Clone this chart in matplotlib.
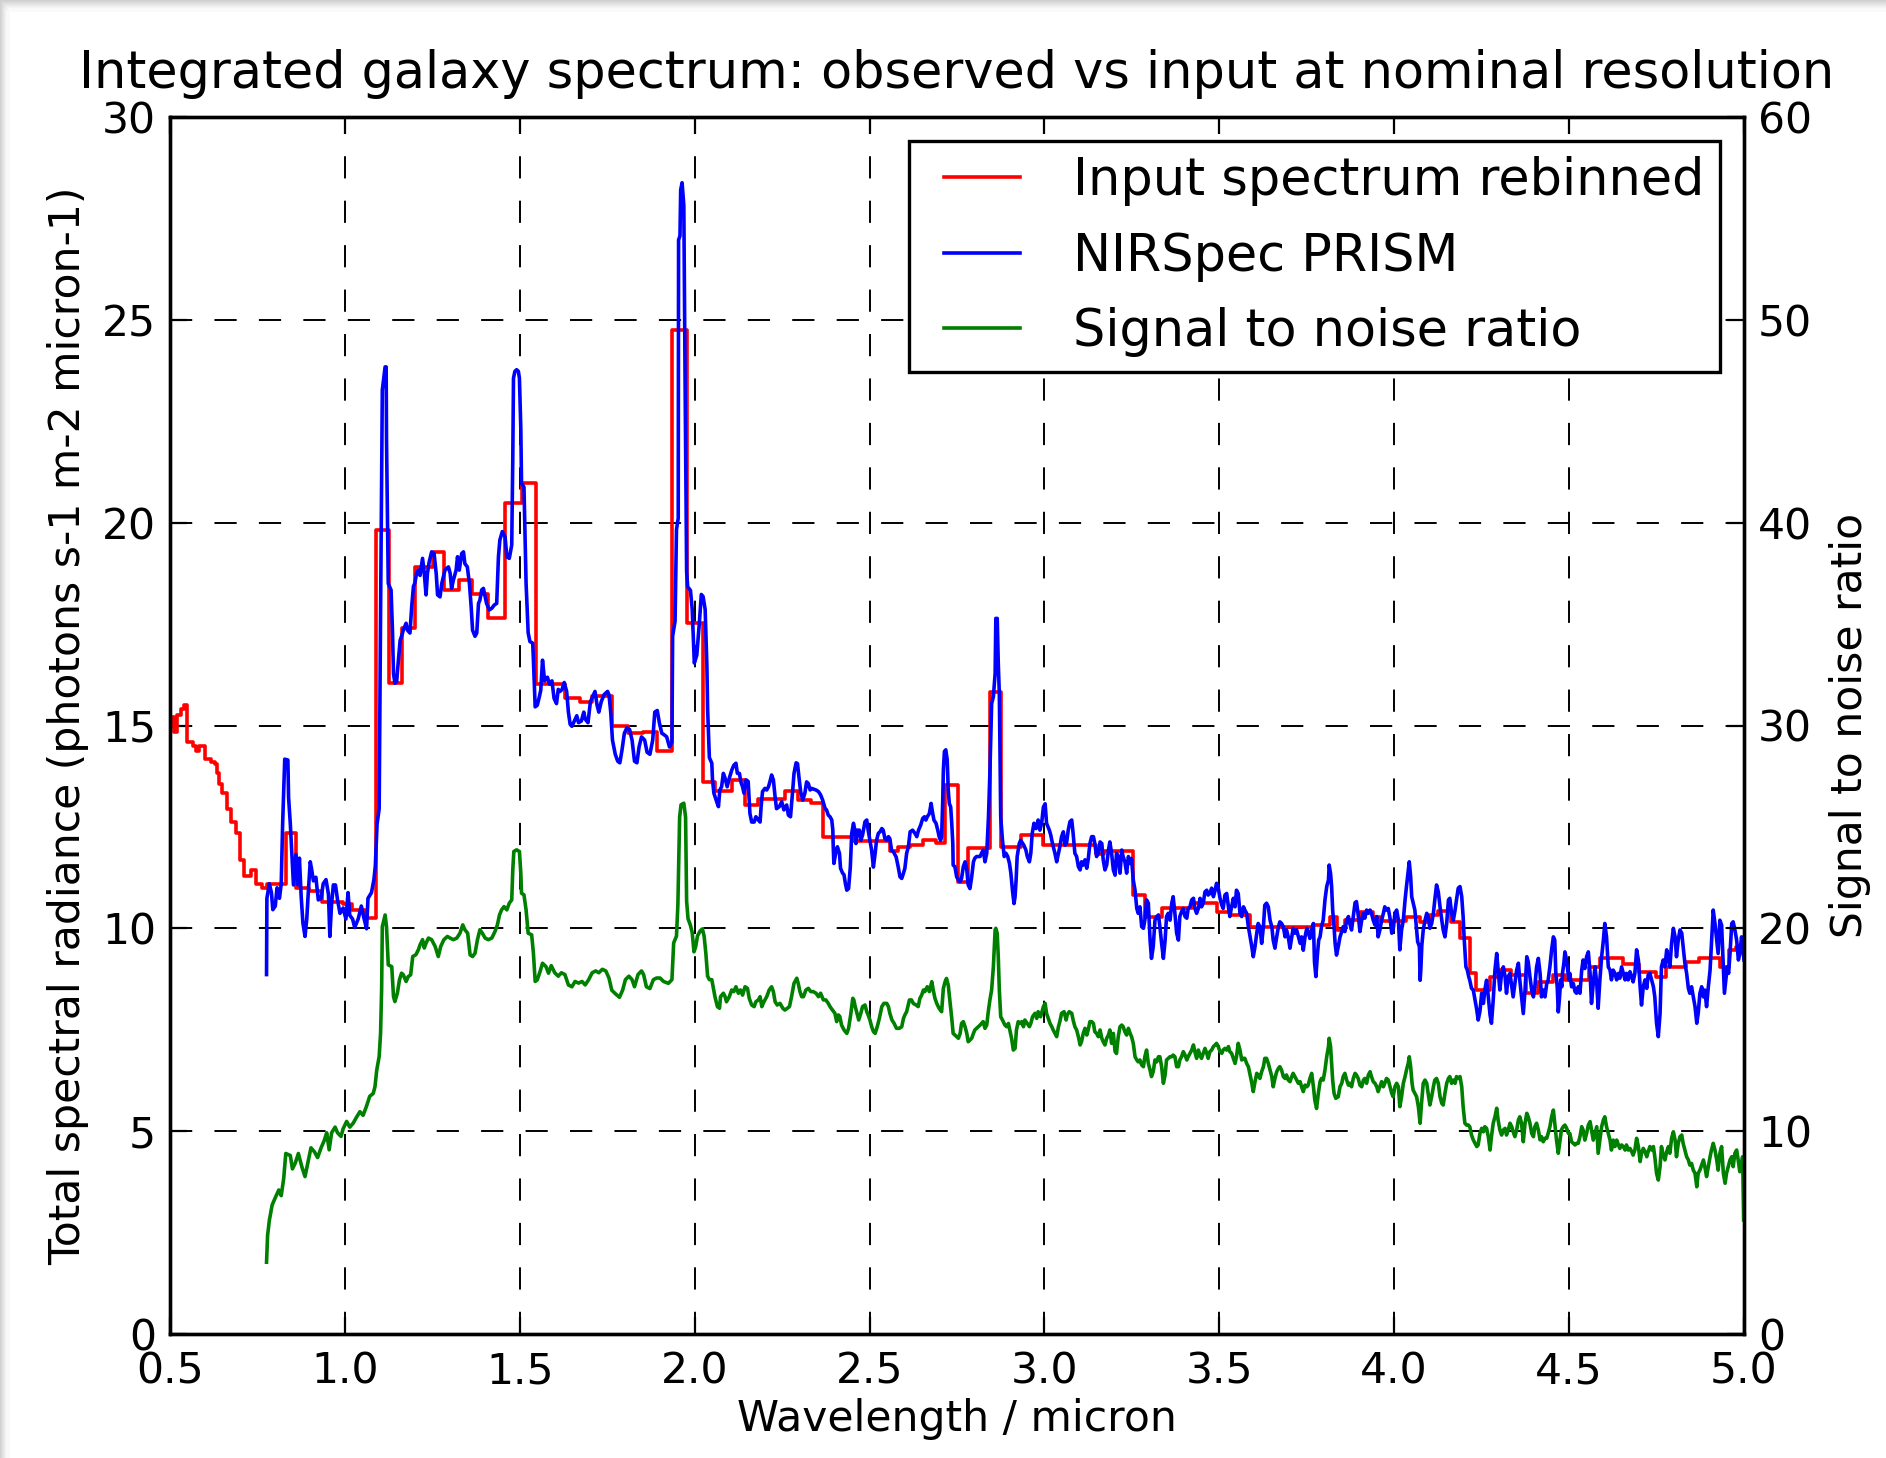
import matplotlib
matplotlib.use("Agg")
import matplotlib.pyplot as plt
from matplotlib.patches import Rectangle
from matplotlib.legend_handler import HandlerLine2D

plt.rcParams['font.family'] = ['DejaVu Sans']
plt.rcParams['lines.scale_dashes'] = False

# input spectrum rebinned: bin edges (micron) and values
red_edges = [0.500, 0.506, 0.512, 0.519, 0.531, 0.541, 0.550, 0.566, 0.575, 0.583,
             0.600, 0.616, 0.629, 0.635, 0.640, 0.650, 0.664, 0.673, 0.688, 0.699,
             0.711, 0.733, 0.746, 0.763, 0.777, 0.832, 0.861, 0.896, 0.934, 0.995,
             1.019, 1.057, 1.089, 1.126, 1.164, 1.200, 1.253, 1.283, 1.327, 1.362,
             1.410, 1.458, 1.505, 1.545, 1.629, 1.673, 1.707, 1.765, 1.809, 1.852,
             1.891, 1.936, 1.979, 2.025, 2.058, 2.106, 2.144, 2.182, 2.258, 2.296,
             2.334, 2.368, 2.449, 2.558, 2.582, 2.615, 2.653, 2.691, 2.715, 2.753,
             2.782, 2.844, 2.877, 2.934, 2.997, 3.146, 3.170, 3.254, 3.287, 3.335,
             3.421, 3.492, 3.530, 3.587, 3.768, 3.816, 3.835, 3.859, 3.902, 3.940,
             3.959, 4.035, 4.073, 4.102, 4.125, 4.163, 4.187, 4.216, 4.235, 4.273,
             4.302, 4.335, 4.378, 4.412, 4.455, 4.488, 4.558, 4.587, 4.653, 4.701,
             4.748, 4.777, 4.834, 4.872, 4.930, 4.958, 4.977, 5.000]
red_vals = [15.0, 15.2, 14.83, 15.25, 15.4, 15.5, 14.6, 14.5, 14.36, 14.5,
            14.17, 14.1, 14.05, 13.84, 13.56, 13.33, 12.95, 12.62, 12.34, 11.68,
            11.3, 11.43, 11.1, 11.0, 11.1, 12.34, 11.0, 10.93, 10.65, 10.6,
            10.46, 10.25, 19.83, 16.04, 17.4, 18.9, 19.27, 18.35, 18.58, 18.25,
            17.64, 20.48, 20.98, 16.03, 15.67, 15.57, 15.72, 14.98, 14.81, 14.85,
            14.38, 24.74, 17.53, 13.61, 13.38, 13.65, 13.04, 13.2, 13.38, 13.16,
            13.08, 12.26, 12.16, 11.91, 12.01, 12.05, 12.18, 12.1, 13.53, 11.15,
            11.97, 15.83, 12.01, 12.3, 12.05, 11.83, 11.9, 10.82, 10.29, 10.51,
            10.62, 10.41, 10.33, 10.04, 10.08, 10.27, 9.96, 10.2, 10.41, 10.27,
            10.19, 10.27, 10.16, 10.32, 10.42, 10.16, 9.75, 8.89, 8.48, 8.8,
            8.97, 8.85, 8.4, 8.68, 8.85, 8.72, 9.05, 9.26, 9.13, 8.93,
            8.81, 9.05, 9.17, 9.26, 9.05, 9.47, 9.55]

# NIRSpec PRISM observed spectrum
prism_wl = [
    0.776, 0.777, 0.784, 0.790, 0.794, 0.801, 0.806, 0.813, 0.818, 0.822, 0.828, 0.837, 0.839, 0.844,
    0.848, 0.853, 0.860, 0.866, 0.870, 0.875, 0.880, 0.886, 0.891, 0.896, 0.901, 0.905, 0.910, 0.917,
    0.924, 0.932, 0.938, 0.946, 0.953, 0.957, 0.962, 0.967, 0.973, 0.979, 0.986, 0.995, 1.003, 1.009,
    1.014, 1.022, 1.028, 1.038, 1.047, 1.054, 1.062, 1.066, 1.076, 1.083, 1.087, 1.092, 1.098, 1.102,
    1.107, 1.115, 1.118, 1.119, 1.124, 1.132, 1.136, 1.139, 1.143, 1.148, 1.153, 1.158, 1.162, 1.167,
    1.175, 1.179, 1.186, 1.191, 1.196, 1.200, 1.205, 1.210, 1.215, 1.222, 1.227, 1.232, 1.236, 1.241,
    1.248, 1.255, 1.261, 1.265, 1.272, 1.277, 1.286, 1.296, 1.301, 1.305, 1.310, 1.318, 1.322, 1.327,
    1.334, 1.339, 1.343, 1.350, 1.356, 1.361, 1.365, 1.372, 1.377, 1.382, 1.386, 1.391, 1.396, 1.401,
    1.405, 1.413, 1.420, 1.427, 1.434, 1.439, 1.443, 1.450, 1.458, 1.463, 1.470, 1.477, 1.480, 1.482,
    1.486, 1.491, 1.496, 1.499, 1.503, 1.505, 1.512, 1.518, 1.524, 1.529, 1.537, 1.539, 1.544, 1.550,
    1.556, 1.560, 1.565, 1.571, 1.579, 1.585, 1.592, 1.598, 1.605, 1.610, 1.615, 1.621, 1.627, 1.634,
    1.639, 1.644, 1.649, 1.656, 1.663, 1.668, 1.676, 1.683, 1.687, 1.695, 1.702, 1.709, 1.715, 1.721,
    1.726, 1.733, 1.741, 1.751, 1.755, 1.760, 1.765, 1.773, 1.780, 1.786, 1.792, 1.799, 1.806, 1.814,
    1.821, 1.828, 1.835, 1.841, 1.848, 1.857, 1.864, 1.872, 1.880, 1.886, 1.893, 1.899, 1.906, 1.913,
    1.920, 1.928, 1.935, 1.937, 1.944, 1.948, 1.953, 1.954, 1.958, 1.960, 1.964, 1.969, 1.973, 1.977,
    1.980, 1.988, 1.993, 1.999, 2.006, 2.013, 2.019, 2.024, 2.030, 2.035, 2.037, 2.042, 2.049, 2.051,
    2.055, 2.063, 2.068, 2.072, 2.077, 2.082, 2.087, 2.093, 2.099, 2.106, 2.112, 2.118, 2.122, 2.128,
    2.132, 2.137, 2.141, 2.147, 2.153, 2.158, 2.163, 2.170, 2.175, 2.182, 2.187, 2.190, 2.194, 2.201,
    2.206, 2.211, 2.215, 2.220, 2.225, 2.230, 2.234, 2.242, 2.249, 2.255, 2.263, 2.268, 2.274, 2.280,
    2.284, 2.290, 2.294, 2.298, 2.303, 2.309, 2.315, 2.320, 2.325, 2.330, 2.334, 2.347, 2.354, 2.360,
    2.366, 2.373, 2.377, 2.382, 2.387, 2.392, 2.395, 2.396, 2.398, 2.404, 2.408, 2.414, 2.417, 2.423,
    2.427, 2.431, 2.435, 2.440, 2.445, 2.449, 2.454, 2.458, 2.461, 2.465, 2.471, 2.475, 2.480, 2.487,
    2.492, 2.496, 2.501, 2.506, 2.511, 2.516, 2.520, 2.525, 2.530, 2.535, 2.539, 2.544, 2.549, 2.554,
    2.558, 2.563, 2.568, 2.576, 2.582, 2.587, 2.592, 2.597, 2.601, 2.606, 2.611, 2.616, 2.623, 2.630,
    2.635, 2.640, 2.646, 2.652, 2.657, 2.661, 2.665, 2.671, 2.676, 2.679, 2.684, 2.690, 2.695, 2.699,
    2.703, 2.706, 2.709, 2.711, 2.714, 2.718, 2.722, 2.725, 2.728, 2.732, 2.735, 2.738, 2.739, 2.744,
    2.749, 2.754, 2.759, 2.763, 2.768, 2.773, 2.778, 2.782, 2.787, 2.792, 2.797, 2.801, 2.806, 2.816,
    2.820, 2.825, 2.830, 2.835, 2.840, 2.844, 2.849, 2.854, 2.859, 2.861, 2.865, 2.868, 2.871, 2.873,
    2.875, 2.880, 2.885, 2.890, 2.895, 2.900, 2.904, 2.909, 2.913, 2.916, 2.919, 2.922, 2.928, 2.932,
    2.938, 2.941, 2.947, 2.951, 2.957, 2.961, 2.965, 2.970, 2.976, 2.982, 2.987, 2.992, 2.997, 3.002,
    3.006, 3.014, 3.018, 3.023, 3.030, 3.035, 3.040, 3.044, 3.049, 3.054, 3.059, 3.063, 3.068, 3.073,
    3.078, 3.082, 3.087, 3.092, 3.097, 3.102, 3.106, 3.111, 3.116, 3.121, 3.125, 3.130, 3.135, 3.140,
    3.144, 3.149, 3.154, 3.159, 3.164, 3.168, 3.173, 3.178, 3.183, 3.187, 3.192, 3.197, 3.202, 3.206,
    3.211, 3.216, 3.221, 3.225, 3.230, 3.235, 3.240, 3.245, 3.249, 3.254, 3.259, 3.264, 3.268, 3.273,
    3.278, 3.283, 3.287, 3.292, 3.297, 3.302, 3.306, 3.311, 3.316, 3.321, 3.326, 3.330, 3.335, 3.340,
    3.345, 3.349, 3.354, 3.359, 3.364, 3.368, 3.373, 3.378, 3.383, 3.387, 3.392, 3.397, 3.402, 3.407,
    3.411, 3.416, 3.421, 3.426, 3.430, 3.435, 3.440, 3.445, 3.449, 3.454, 3.459, 3.464, 3.468, 3.473,
    3.478, 3.483, 3.488, 3.492, 3.497, 3.502, 3.507, 3.511, 3.516, 3.521, 3.526, 3.530, 3.535, 3.540,
    3.545, 3.549, 3.554, 3.559, 3.564, 3.569, 3.573, 3.578, 3.583, 3.588, 3.592, 3.597, 3.602, 3.607,
    3.611, 3.616, 3.621, 3.626, 3.630, 3.635, 3.640, 3.645, 3.650, 3.654, 3.659, 3.664, 3.669, 3.673,
    3.678, 3.683, 3.688, 3.692, 3.697, 3.702, 3.707, 3.711, 3.716, 3.721, 3.726, 3.731, 3.735, 3.740,
    3.745, 3.750, 3.754, 3.759, 3.764, 3.769, 3.772, 3.776, 3.780, 3.784, 3.788, 3.792, 3.797, 3.802,
    3.807, 3.812, 3.814, 3.818, 3.821, 3.824, 3.828, 3.831, 3.835, 3.840, 3.845, 3.850, 3.854, 3.859,
    3.864, 3.869, 3.873, 3.878, 3.883, 3.888, 3.892, 3.897, 3.902, 3.907, 3.912, 3.916, 3.921, 3.926,
    3.931, 3.935, 3.940, 3.945, 3.950, 3.954, 3.959, 3.964, 3.969, 3.973, 3.978, 3.983, 3.988, 3.993,
    3.997, 4.002, 4.007, 4.012, 4.016, 4.021, 4.026, 4.031, 4.035, 4.040, 4.043, 4.047, 4.050, 4.054,
    4.059, 4.064, 4.067, 4.072, 4.074, 4.076, 4.079, 4.083, 4.088, 4.093, 4.097, 4.102, 4.107, 4.112,
    4.116, 4.121, 4.126, 4.131, 4.136, 4.140, 4.145, 4.150, 4.155, 4.159, 4.164, 4.169, 4.174, 4.178,
    4.183, 4.188, 4.193, 4.197, 4.200, 4.205, 4.209, 4.213, 4.216, 4.221, 4.226, 4.231, 4.236, 4.240,
    4.245, 4.250, 4.255, 4.259, 4.264, 4.269, 4.274, 4.278, 4.283, 4.288, 4.293, 4.297, 4.302, 4.307,
    4.312, 4.317, 4.321, 4.326, 4.331, 4.336, 4.340, 4.345, 4.350, 4.355, 4.359, 4.364, 4.369, 4.374,
    4.379, 4.383, 4.388, 4.393, 4.398, 4.402, 4.407, 4.412, 4.417, 4.421, 4.426, 4.431, 4.436, 4.440,
    4.445, 4.450, 4.455, 4.459, 4.462, 4.466, 4.469, 4.472, 4.476, 4.479, 4.481, 4.485, 4.488, 4.491,
    4.495, 4.499, 4.502, 4.507, 4.512, 4.517, 4.521, 4.526, 4.531, 4.536, 4.540, 4.545, 4.550, 4.555,
    4.560, 4.564, 4.569, 4.574, 4.579, 4.583, 4.588, 4.593, 4.598, 4.602, 4.607, 4.612, 4.617, 4.621,
    4.626, 4.631, 4.636, 4.641, 4.645, 4.650, 4.655, 4.660, 4.664, 4.669, 4.674, 4.679, 4.683, 4.688,
    4.693, 4.698, 4.703, 4.707, 4.712, 4.717, 4.722, 4.726, 4.731, 4.736, 4.741, 4.745, 4.750, 4.755,
    4.760, 4.764, 4.769, 4.774, 4.779, 4.784, 4.788, 4.793, 4.798, 4.803, 4.807, 4.812, 4.817, 4.822,
    4.826, 4.831, 4.836, 4.841, 4.845, 4.850, 4.855, 4.860, 4.865, 4.869, 4.874, 4.879, 4.884, 4.888,
    4.893, 4.898, 4.903, 4.907, 4.912, 4.917, 4.922, 4.926, 4.931, 4.936, 4.941, 4.944, 4.948, 4.952,
    4.956, 4.960, 4.965, 4.969, 4.974, 4.979, 4.984, 4.988, 4.993, 5.000]
prism_flux = [
    8.86, 10.74, 11.1, 10.88, 10.46, 10.55, 11.0, 10.74, 11.1, 12.57, 14.17, 14.15, 13.23, 12.57,
    11.92, 11.07, 11.82, 11.07, 11.73, 10.79, 10.13, 9.8, 10.23, 10.98, 11.64, 11.45, 11.17, 11.26,
    10.7, 10.74, 11.1, 11.2, 10.84, 9.8, 10.6, 11.07, 11.07, 10.7, 10.37, 10.5, 10.23, 10.88,
    10.32, 10.23, 10.02, 10.23, 10.55, 10.27, 9.99, 10.74, 10.88, 11.2, 11.54, 12.57, 12.95, 17.76,
    23.27, 23.84, 23.84, 22.07, 18.5, 18.34, 17.35, 16.28, 16.04, 16.08, 16.61, 17.1, 17.2, 17.35,
    17.52, 17.35, 17.28, 17.93, 18.43, 18.51, 18.75, 18.83, 18.7, 19.12, 18.75, 18.22, 18.75, 19.03,
    19.28, 19.24, 18.75, 18.22, 18.17, 18.5, 18.83, 18.91, 18.75, 18.38, 18.58, 18.83, 19.16, 18.83,
    19.24, 19.28, 18.99, 18.91, 18.5, 17.93, 17.35, 17.2, 17.28, 18.01, 18.09, 18.34, 18.38, 18.17,
    18.01, 17.85, 17.89, 17.97, 18.01, 19.16, 19.57, 19.78, 19.65, 19.16, 19.12, 19.45, 21.58, 23.56,
    23.73, 23.77, 23.73, 23.56, 22.3, 20.97, 20.88, 18.51, 17.28, 17.07, 17.03, 16.61, 15.46, 15.5,
    15.71, 15.87, 16.61, 16.1, 16.19, 16.02, 16.1, 15.67, 15.54, 15.89, 15.84, 15.89, 16.06, 15.84,
    15.33, 15.03, 14.98, 15.11, 15.24, 15.07, 15.11, 15.33, 15.16, 15.07, 15.59, 15.72, 15.84, 15.5,
    15.33, 15.59, 15.76, 15.84, 15.76, 15.33, 14.64, 14.29, 14.12, 14.08, 14.38, 14.81, 14.94, 14.9,
    14.64, 14.12, 14.08, 14.47, 14.72, 14.64, 14.34, 14.29, 14.64, 15.33, 15.37, 15.07, 14.81, 14.77,
    14.72, 14.47, 14.59, 17.2, 17.58, 19.83, 20.11, 26.97, 27.07, 28.2, 28.38, 27.82, 23.03, 18.8,
    18.42, 18.33, 17.86, 16.54, 16.73, 17.48, 18.23, 18.18, 17.86, 16.45, 15.41, 14.21, 14.07, 13.66,
    13.33, 13.12, 13.0, 13.41, 13.49, 13.82, 13.7, 13.49, 13.7, 13.9, 14.02, 14.07, 13.82, 13.82,
    13.61, 13.49, 13.33, 13.66, 13.62, 12.83, 12.62, 12.62, 12.75, 12.67, 12.62, 13.0, 13.37, 13.45,
    13.41, 13.49, 13.61, 13.78, 13.66, 13.24, 12.95, 13.0, 13.12, 12.92, 13.04, 12.79, 12.75, 13.37,
    13.82, 14.08, 14.06, 13.74, 13.37, 13.16, 13.33, 13.61, 13.57, 13.41, 13.45, 13.41, 13.37, 13.29,
    13.16, 12.95, 12.92, 12.79, 12.75, 12.67, 12.42, 12.05, 11.6, 11.89, 12.01, 11.85, 11.48, 11.36,
    11.32, 11.1, 10.94, 10.98, 11.51, 12.34, 12.59, 12.42, 12.09, 12.42, 12.42, 12.17, 12.3, 12.63,
    12.67, 12.42, 12.17, 11.92, 11.51, 11.85, 12.17, 12.34, 12.38, 12.46, 12.42, 12.21, 12.17, 12.26,
    12.21, 11.92, 11.89, 11.76, 11.51, 11.27, 11.23, 11.36, 11.48, 11.85, 12.01, 12.38, 12.42, 12.34,
    12.26, 12.42, 12.54, 12.71, 12.75, 12.67, 12.75, 12.83, 13.08, 12.91, 12.67, 12.59, 12.42, 12.26,
    12.17, 12.26, 13.08, 13.9, 14.36, 14.4, 14.15, 13.41, 13.08, 12.99, 12.59, 12.09, 11.56, 11.52,
    11.27, 11.19, 11.15, 11.23, 11.52, 11.64, 11.44, 11.07, 10.98, 11.27, 11.64, 11.73, 11.77, 11.77,
    11.85, 11.93, 11.64, 11.85, 12.75, 13.82, 15.54, 15.71, 16.28, 17.64, 17.64, 16.53, 15.79, 14.23,
    12.75, 12.17, 11.77, 11.85, 11.77, 11.6, 11.36, 10.9, 10.61, 10.78, 11.19, 11.77, 12.09, 12.17,
    12.09, 12.05, 11.93, 11.77, 11.64, 11.85, 12.34, 12.59, 12.46, 12.67, 12.42, 12.59, 12.99, 13.07,
    12.59, 12.42, 12.3, 12.09, 11.85, 11.64, 11.85, 12.01, 12.26, 12.38, 12.05, 12.09, 12.42, 12.63,
    12.67, 12.34, 11.85, 11.77, 11.52, 11.44, 11.64, 11.56, 11.69, 11.48, 11.69, 12.09, 12.26, 12.26,
    12.09, 11.77, 11.85, 12.13, 12.09, 11.69, 11.44, 11.56, 11.93, 12.13, 11.85, 11.44, 11.31, 11.85,
    11.77, 11.36, 11.93, 11.77, 11.64, 11.36, 11.77, 11.6, 11.72, 11.19, 10.94, 10.49, 10.37, 10.53,
    10.04, 10.0, 10.2, 10.7, 10.62, 9.71, 9.26, 9.55, 10.2, 10.29, 10.33, 10.04, 9.63, 9.26,
    9.71, 10.29, 10.37, 10.2, 10.62, 10.78, 10.37, 9.88, 9.71, 10.29, 10.41, 10.49, 10.29, 10.25,
    10.49, 10.53, 10.7, 10.74, 10.49, 10.37, 10.49, 10.74, 10.53, 10.62, 10.9, 10.94, 10.82, 10.86,
    10.99, 10.78, 10.94, 11.11, 10.99, 10.74, 10.57, 10.49, 10.82, 10.86, 10.53, 10.29, 10.53, 10.74,
    10.53, 10.94, 10.86, 10.37, 10.29, 10.53, 10.45, 10.37, 10.04, 9.79, 9.59, 9.3, 9.55, 9.88,
    10.12, 10.04, 9.63, 10.04, 10.57, 10.62, 10.53, 10.2, 10.04, 9.71, 9.51, 9.79, 10.04, 10.16,
    10.12, 10.04, 9.79, 9.96, 9.79, 9.51, 9.79, 10.0, 9.88, 9.96, 9.79, 9.63, 9.79, 9.46,
    9.79, 10.0, 9.92, 9.75, 9.96, 10.12, 9.18, 8.81, 9.3, 9.71, 9.79, 10.04, 10.2, 10.7,
    11.03, 11.19, 11.56, 11.35, 11.03, 10.45, 10.04, 9.63, 9.34, 9.55, 9.79, 9.92, 10.04, 9.92,
    10.2, 10.29, 10.12, 9.96, 10.29, 10.63, 10.66, 10.33, 9.92, 10.2, 10.37, 10.25, 10.45, 10.37,
    10.45, 10.37, 10.2, 10.08, 10.29, 9.79, 9.96, 10.2, 10.37, 10.53, 10.45, 10.49, 10.25, 9.88,
    9.96, 10.37, 10.45, 10.2, 9.47, 9.96, 10.2, 10.7, 11.03, 11.4, 11.64, 11.27, 10.78, 10.63,
    10.45, 9.96, 9.67, 9.55, 8.72, 8.97, 9.59, 9.96, 10.2, 10.37, 10.29, 10.0, 10.12, 10.37,
    10.7, 11.07, 10.9, 10.53, 10.2, 9.96, 9.79, 10.12, 10.7, 10.74, 10.37, 10.2, 10.45, 10.7,
    10.99, 11.03, 10.78, 10.29, 9.75, 9.05, 8.97, 8.81, 8.72, 8.52, 8.48, 8.23, 7.99, 7.74,
    7.95, 8.4, 8.15, 8.48, 8.72, 8.31, 7.86, 7.66, 8.23, 8.97, 9.38, 8.97, 8.48, 8.89,
    9.05, 8.81, 8.4, 8.81, 8.89, 8.56, 8.31, 8.64, 8.97, 9.14, 8.72, 8.31, 7.9, 8.48,
    9.3, 9.18, 8.81, 8.48, 8.31, 8.56, 9.05, 9.26, 8.89, 8.31, 8.48, 8.31, 8.64, 8.72,
    9.05, 9.47, 9.79, 9.71, 8.89, 8.56, 7.94, 8.23, 8.73, 8.56, 8.89, 9.14, 9.42, 9.3,
    9.05, 8.73, 8.89, 8.56, 8.64, 8.44, 8.4, 8.56, 8.4, 8.97, 9.22, 9.01, 9.3, 9.42,
    8.89, 8.15, 8.64, 9.05, 8.64, 8.03, 8.73, 9.3, 9.71, 10.12, 9.79, 9.05, 8.97, 8.73,
    8.97, 8.89, 8.73, 8.89, 8.77, 9.05, 8.89, 8.73, 8.89, 8.73, 8.93, 8.81, 8.68, 8.89,
    9.47, 9.22, 8.56, 8.11, 8.56, 8.73, 8.52, 8.85, 8.89, 8.73, 8.56, 8.31, 7.66, 7.33,
    7.9, 9.05, 9.22, 9.05, 9.47, 9.22, 9.05, 9.63, 10.0, 9.79, 9.3, 9.71, 9.96, 9.88,
    9.55, 9.14, 8.89, 8.52, 8.4, 8.56, 8.31, 8.07, 7.66, 7.9, 8.4, 8.56, 8.31, 8.48,
    8.07, 8.56, 8.97, 9.63, 10.45, 10.12, 9.71, 9.38, 10.2, 10.08, 9.05, 8.4, 8.73, 9.05,
    8.89, 9.38, 10.12, 10.16, 9.96, 9.71, 9.22, 9.38, 9.79, 9.22]

# signal to noise ratio (right axis)
snr_wl = [
    0.776, 0.779, 0.784, 0.792, 0.801, 0.811, 0.818, 0.825, 0.831, 0.844, 0.850, 0.858, 0.867, 0.877,
    0.886, 0.896, 0.903, 0.913, 0.922, 0.932, 0.941, 0.948, 0.955, 0.962, 0.972, 0.979, 0.989, 0.995,
    1.005, 1.014, 1.024, 1.033, 1.043, 1.052, 1.062, 1.071, 1.081, 1.086, 1.091, 1.098, 1.102, 1.105,
    1.107, 1.115, 1.119, 1.124, 1.134, 1.139, 1.143, 1.150, 1.156, 1.162, 1.167, 1.175, 1.181, 1.188,
    1.194, 1.203, 1.210, 1.215, 1.222, 1.227, 1.232, 1.239, 1.248, 1.258, 1.267, 1.274, 1.283, 1.293,
    1.301, 1.310, 1.320, 1.329, 1.337, 1.343, 1.351, 1.358, 1.365, 1.372, 1.379, 1.386, 1.393, 1.401,
    1.410, 1.420, 1.429, 1.436, 1.442, 1.448, 1.455, 1.463, 1.470, 1.477, 1.480, 1.483, 1.491, 1.499,
    1.503, 1.505, 1.512, 1.518, 1.524, 1.534, 1.539, 1.544, 1.550, 1.558, 1.565, 1.575, 1.582, 1.590,
    1.600, 1.610, 1.619, 1.629, 1.639, 1.649, 1.658, 1.668, 1.678, 1.687, 1.697, 1.707, 1.717, 1.726,
    1.736, 1.746, 1.755, 1.763, 1.773, 1.785, 1.794, 1.802, 1.812, 1.821, 1.828, 1.838, 1.848, 1.854,
    1.862, 1.872, 1.882, 1.891, 1.901, 1.911, 1.925, 1.935, 1.940, 1.948, 1.952, 1.957, 1.961, 1.969,
    1.974, 1.977, 1.981, 1.988, 1.993, 1.998, 2.003, 2.008, 2.016, 2.022, 2.027, 2.032, 2.037, 2.042,
    2.049, 2.058, 2.065, 2.071, 2.074, 2.082, 2.087, 2.091, 2.099, 2.106, 2.112, 2.118, 2.125, 2.131,
    2.137, 2.144, 2.151, 2.156, 2.163, 2.170, 2.175, 2.182, 2.187, 2.192, 2.198, 2.206, 2.213, 2.220,
    2.225, 2.230, 2.236, 2.244, 2.252, 2.258, 2.265, 2.271, 2.277, 2.284, 2.292, 2.296, 2.301, 2.306,
    2.311, 2.318, 2.325, 2.332, 2.339, 2.347, 2.354, 2.360, 2.368, 2.375, 2.382, 2.387, 2.394, 2.401,
    2.406, 2.411, 2.415, 2.420, 2.427, 2.435, 2.440, 2.446, 2.452, 2.455, 2.459, 2.463, 2.469, 2.475,
    2.480, 2.487, 2.492, 2.496, 2.501, 2.506, 2.511, 2.516, 2.522, 2.528, 2.535, 2.541, 2.549, 2.554,
    2.558, 2.564, 2.570, 2.577, 2.585, 2.592, 2.597, 2.601, 2.606, 2.614, 2.620, 2.625, 2.633, 2.639,
    2.644, 2.649, 2.654, 2.658, 2.665, 2.671, 2.678, 2.682, 2.687, 2.692, 2.699, 2.706, 2.711, 2.716,
    2.720, 2.725, 2.730, 2.735, 2.739, 2.744, 2.749, 2.754, 2.759, 2.763, 2.768, 2.773, 2.778, 2.782,
    2.787, 2.792, 2.797, 2.801, 2.806, 2.811, 2.816, 2.820, 2.825, 2.830, 2.835, 2.840, 2.844, 2.849,
    2.854, 2.859, 2.861, 2.865, 2.868, 2.871, 2.875, 2.880, 2.887, 2.892, 2.897, 2.901, 2.906, 2.911,
    2.916, 2.920, 2.925, 2.930, 2.935, 2.940, 2.944, 2.951, 2.957, 2.961, 2.966, 2.973, 2.978, 2.982,
    2.989, 2.997, 3.002, 3.006, 3.011, 3.016, 3.021, 3.025, 3.030, 3.035, 3.040, 3.044, 3.049, 3.056,
    3.062, 3.065, 3.071, 3.078, 3.082, 3.087, 3.092, 3.097, 3.102, 3.106, 3.111, 3.116, 3.121, 3.125,
    3.130, 3.135, 3.140, 3.144, 3.149, 3.154, 3.159, 3.164, 3.168, 3.173, 3.178, 3.183, 3.187, 3.192,
    3.197, 3.202, 3.206, 3.211, 3.216, 3.221, 3.225, 3.230, 3.235, 3.240, 3.245, 3.249, 3.254, 3.259,
    3.264, 3.268, 3.273, 3.278, 3.283, 3.287, 3.292, 3.297, 3.302, 3.306, 3.311, 3.316, 3.321, 3.326,
    3.330, 3.335, 3.340, 3.345, 3.349, 3.354, 3.359, 3.364, 3.368, 3.373, 3.378, 3.383, 3.387, 3.392,
    3.397, 3.402, 3.407, 3.411, 3.416, 3.421, 3.426, 3.430, 3.435, 3.440, 3.445, 3.449, 3.454, 3.459,
    3.464, 3.468, 3.473, 3.478, 3.483, 3.488, 3.492, 3.497, 3.502, 3.507, 3.511, 3.516, 3.521, 3.526,
    3.530, 3.535, 3.540, 3.545, 3.549, 3.554, 3.559, 3.564, 3.569, 3.573, 3.578, 3.583, 3.588, 3.592,
    3.597, 3.602, 3.607, 3.611, 3.616, 3.621, 3.626, 3.630, 3.635, 3.640, 3.645, 3.650, 3.654, 3.659,
    3.664, 3.669, 3.673, 3.678, 3.683, 3.688, 3.692, 3.697, 3.702, 3.707, 3.711, 3.716, 3.721, 3.726,
    3.731, 3.735, 3.740, 3.745, 3.750, 3.754, 3.759, 3.764, 3.769, 3.773, 3.778, 3.783, 3.788, 3.792,
    3.797, 3.802, 3.807, 3.812, 3.814, 3.818, 3.821, 3.824, 3.828, 3.833, 3.840, 3.845, 3.850, 3.854,
    3.859, 3.864, 3.869, 3.873, 3.878, 3.883, 3.888, 3.892, 3.897, 3.902, 3.907, 3.912, 3.916, 3.921,
    3.926, 3.931, 3.935, 3.940, 3.945, 3.950, 3.954, 3.959, 3.964, 3.969, 3.973, 3.978, 3.983, 3.988,
    3.993, 3.997, 4.002, 4.007, 4.012, 4.016, 4.021, 4.026, 4.031, 4.035, 4.040, 4.043, 4.047, 4.051,
    4.054, 4.059, 4.064, 4.069, 4.074, 4.078, 4.083, 4.088, 4.093, 4.097, 4.102, 4.107, 4.112, 4.116,
    4.121, 4.126, 4.131, 4.136, 4.140, 4.145, 4.150, 4.155, 4.159, 4.164, 4.169, 4.174, 4.178, 4.183,
    4.188, 4.193, 4.197, 4.202, 4.207, 4.212, 4.216, 4.221, 4.226, 4.231, 4.236, 4.240, 4.245, 4.250,
    4.255, 4.259, 4.264, 4.269, 4.274, 4.278, 4.283, 4.288, 4.293, 4.297, 4.302, 4.307, 4.312, 4.317,
    4.321, 4.326, 4.331, 4.336, 4.340, 4.345, 4.350, 4.355, 4.359, 4.364, 4.369, 4.374, 4.379, 4.383,
    4.388, 4.393, 4.398, 4.402, 4.407, 4.412, 4.417, 4.421, 4.426, 4.431, 4.436, 4.440, 4.445, 4.450,
    4.455, 4.459, 4.464, 4.469, 4.474, 4.478, 4.483, 4.488, 4.493, 4.498, 4.502, 4.507, 4.512, 4.517,
    4.521, 4.526, 4.531, 4.536, 4.540, 4.545, 4.550, 4.555, 4.560, 4.564, 4.569, 4.574, 4.579, 4.583,
    4.588, 4.593, 4.598, 4.602, 4.607, 4.612, 4.617, 4.621, 4.626, 4.631, 4.636, 4.641, 4.645, 4.650,
    4.655, 4.660, 4.664, 4.669, 4.674, 4.679, 4.683, 4.688, 4.693, 4.698, 4.703, 4.707, 4.712, 4.717,
    4.722, 4.726, 4.731, 4.736, 4.741, 4.745, 4.750, 4.755, 4.760, 4.764, 4.769, 4.774, 4.779, 4.784,
    4.788, 4.793, 4.798, 4.803, 4.807, 4.812, 4.817, 4.822, 4.826, 4.831, 4.836, 4.841, 4.845, 4.850,
    4.855, 4.860, 4.865, 4.869, 4.874, 4.879, 4.884, 4.888, 4.893, 4.898, 4.903, 4.907, 4.912, 4.917,
    4.922, 4.926, 4.931, 4.936, 4.941, 4.946, 4.950, 4.955, 4.960, 4.965, 4.969, 4.974, 4.979, 4.984,
    4.988, 4.993, 4.996, 4.999]
snr = [
    3.54, 4.86, 5.6, 6.36, 6.72, 7.1, 6.82, 7.66, 8.9, 8.8, 8.14, 8.42, 8.9, 8.24,
    7.76, 8.6, 9.18, 8.98, 8.7, 9.18, 9.54, 9.92, 9.08, 9.92, 10.2, 9.92, 9.74, 10.12,
    10.48, 10.2, 10.4, 10.68, 10.96, 10.78, 11.24, 11.72, 11.86, 12.19, 13.0, 13.68, 14.83, 16.96,
    20.08, 20.66, 20.08, 18.2, 18.11, 16.63, 16.39, 16.8, 17.46, 17.79, 17.71, 17.38, 17.62, 17.71,
    18.61, 18.7, 18.94, 19.19, 19.44, 19.03, 19.27, 19.52, 19.44, 19.11, 18.61, 19.11, 19.44, 19.6,
    19.52, 19.44, 19.52, 19.76, 20.17, 19.93, 19.76, 18.69, 18.61, 18.77, 19.44, 19.93, 19.76, 19.52,
    19.44, 19.52, 19.84, 20.17, 20.66, 20.91, 21.07, 20.91, 21.24, 21.4, 22.88, 23.79, 23.87, 23.79,
    22.71, 21.73, 21.65, 20.91, 19.76, 19.68, 18.77, 17.38, 17.46, 17.87, 18.28, 18.11, 17.79, 18.16,
    17.81, 17.64, 17.81, 17.72, 17.21, 17.12, 17.38, 17.3, 17.38, 17.21, 17.47, 17.81, 17.9, 17.81,
    17.98, 17.9, 17.55, 16.95, 16.78, 16.6, 16.95, 17.47, 17.64, 17.47, 17.12, 17.72, 17.9, 17.72,
    17.12, 17.03, 17.47, 17.55, 17.55, 17.38, 17.29, 17.47, 19.28, 19.62, 21.17, 25.48, 26.09, 26.17,
    25.48, 21.34, 20.48, 20.14, 19.79, 18.84, 19.1, 19.62, 19.88, 19.97, 19.62, 18.76, 17.64, 17.47,
    17.47, 16.63, 16.14, 16.06, 16.63, 16.8, 16.63, 16.38, 16.63, 16.96, 16.88, 17.12, 16.8, 16.96,
    16.71, 17.12, 17.04, 16.55, 16.22, 16.14, 16.38, 16.47, 16.63, 16.14, 16.38, 16.63, 16.96, 17.12,
    16.88, 16.38, 16.22, 16.3, 16.06, 15.97, 16.06, 16.14, 16.63, 17.29, 17.54, 17.29, 16.88, 16.63,
    16.63, 16.96, 17.04, 16.88, 16.88, 16.8, 16.63, 16.8, 16.47, 16.47, 16.3, 16.14, 15.97, 15.81,
    15.4, 15.73, 15.65, 15.23, 14.99, 14.82, 15.07, 15.73, 16.55, 16.47, 16.14, 15.89, 15.48, 15.81,
    16.14, 16.22, 15.89, 15.73, 15.48, 15.15, 14.91, 14.82, 15.15, 15.56, 16.14, 16.3, 16.3, 16.14,
    15.81, 15.48, 15.32, 15.07, 15.07, 15.15, 15.56, 15.73, 15.89, 16.47, 16.47, 16.3, 16.22, 16.14,
    16.55, 16.71, 16.96, 16.88, 17.12, 16.88, 17.37, 16.96, 16.55, 16.3, 16.05, 15.89, 17.04, 17.37,
    17.53, 17.2, 16.38, 15.56, 14.82, 14.74, 14.66, 14.58, 14.82, 15.31, 15.4, 15.15, 14.82, 14.41,
    14.49, 14.58, 14.82, 14.99, 15.07, 15.15, 15.23, 15.31, 15.4, 15.07, 15.23, 15.97, 16.46, 16.96,
    18.11, 19.92, 20.0, 19.75, 18.6, 16.96, 15.64, 15.48, 15.23, 15.15, 15.31, 14.99, 14.58, 14.0,
    14.08, 14.99, 15.4, 15.31, 15.4, 15.15, 15.48, 15.31, 15.15, 15.31, 15.64, 15.81, 15.56, 15.89,
    15.64, 16.14, 16.3, 15.81, 15.56, 15.31, 15.15, 14.99, 14.82, 14.66, 15.15, 15.4, 15.81, 15.89,
    15.48, 15.73, 15.89, 15.81, 15.48, 15.15, 14.99, 14.66, 14.25, 14.41, 14.82, 15.07, 14.74, 14.99,
    15.4, 15.4, 15.31, 14.9, 14.82, 14.66, 14.99, 14.58, 14.41, 14.25, 14.58, 14.74, 14.99, 14.33,
    14.82, 13.92, 13.83, 14.66, 15.15, 15.23, 15.15, 14.9, 14.74, 15.07, 14.82, 14.66, 14.33, 13.67,
    13.51, 13.42, 13.51, 13.26, 13.18, 13.67, 14.0, 13.34, 13.01, 12.69, 12.93, 13.51, 13.42, 13.67,
    13.67, 13.18, 12.36, 12.77, 13.51, 13.59, 13.67, 13.67, 13.75, 13.67, 13.18, 13.18, 13.51, 13.67,
    13.92, 13.75, 13.51, 13.67, 13.84, 14.0, 14.25, 13.92, 13.59, 14.0, 13.75, 13.59, 13.84, 14.08,
    13.84, 13.59, 13.92, 14.0, 14.17, 14.25, 14.33, 14.17, 13.92, 13.84, 14.0, 14.08, 14.0, 14.17,
    13.92, 13.84, 13.59, 13.34, 13.67, 14.33, 14.0, 13.51, 13.59, 13.59, 13.34, 13.18, 12.77, 12.44,
    11.95, 12.44, 12.85, 12.77, 12.6, 12.93, 13.18, 13.59, 13.59, 13.34, 13.01, 12.69, 12.19, 12.6,
    12.93, 13.1, 13.18, 13.01, 12.69, 12.6, 12.77, 12.52, 12.44, 12.69, 12.85, 12.69, 12.52, 12.36,
    12.44, 12.19, 11.95, 12.27, 12.19, 12.27, 12.6, 12.85, 12.19, 11.53, 11.12, 11.86, 12.44, 12.6,
    12.52, 13.01, 13.67, 14.17, 14.58, 14.17, 13.34, 12.52, 11.86, 11.62, 11.7, 12.19, 12.36, 12.69,
    12.85, 12.52, 12.27, 12.36, 12.19, 12.6, 12.85, 12.77, 12.6, 12.27, 12.19, 12.52, 12.6, 12.36,
    12.77, 12.93, 12.69, 12.44, 12.36, 12.19, 11.95, 12.19, 12.44, 12.19, 12.36, 12.6, 12.52, 12.19,
    11.86, 11.7, 12.19, 12.36, 12.19, 11.21, 11.7, 12.36, 12.69, 13.01, 13.34, 13.67, 13.18, 12.36,
    12.03, 11.86, 11.7, 11.21, 10.39, 11.37, 12.36, 12.52, 12.36, 11.86, 11.29, 11.7, 12.19, 12.52,
    12.6, 12.36, 11.7, 11.37, 11.29, 11.86, 12.36, 12.6, 12.69, 12.36, 12.52, 12.36, 12.69, 12.6,
    12.69, 12.19, 11.21, 10.39, 10.3, 10.3, 10.22, 9.81, 9.57, 9.4, 9.24, 9.32, 9.89, 10.14,
    9.97, 10.22, 10.14, 9.73, 9.07, 9.73, 10.39, 10.71, 11.13, 10.55, 10.06, 9.81, 10.06, 10.14,
    9.81, 10.06, 10.39, 10.22, 9.97, 9.73, 10.06, 10.55, 10.71, 10.39, 9.48, 10.39, 10.88, 10.71,
    10.39, 9.89, 9.73, 10.22, 10.39, 10.06, 9.57, 9.73, 9.48, 9.65, 9.65, 9.89, 10.22, 10.71,
    11.04, 10.39, 9.56, 8.91, 9.56, 10.06, 10.22, 10.3, 10.14, 9.89, 9.89, 9.48, 9.4, 9.32,
    9.4, 9.4, 9.73, 10.22, 10.06, 9.56, 9.89, 10.3, 10.47, 10.06, 9.56, 9.89, 10.22, 8.91,
    9.56, 10.22, 10.55, 10.71, 10.22, 9.89, 9.56, 9.07, 9.56, 9.24, 9.56, 9.32, 9.15, 9.32,
    9.24, 9.07, 9.32, 9.07, 9.15, 8.99, 8.82, 9.07, 9.65, 9.24, 8.5, 8.91, 9.15, 8.99,
    8.74, 8.99, 9.24, 9.07, 9.24, 8.74, 7.92, 7.59, 8.25, 9.24, 8.82, 8.58, 8.99, 9.24,
    8.91, 9.65, 9.97, 9.56, 8.74, 9.4, 9.73, 9.81, 9.4, 9.07, 8.74, 8.58, 8.33, 8.41,
    8.08, 7.92, 7.26, 7.92, 8.08, 8.33, 8.58, 8.25, 7.76, 8.25, 8.74, 9.07, 9.4, 9.07,
    8.58, 8.08, 8.91, 9.24, 7.92, 7.43, 7.92, 8.25, 8.58, 8.74, 8.25, 8.91, 9.07, 8.5,
    8.0, 8.41, 8.74, 5.62]


class LeftGapLine(HandlerLine2D):
    # legend line drawn in the right part of the handle box only
    def get_xdata(self, legend, xdescent, ydescent, width, height, fontsize):
        x0 = -xdescent + 0.2 * width
        x1 = -xdescent + width
        return [x0, x1], [x0, x1]


W, H, DPI = 1886, 1458, 200
fig = plt.figure(figsize=(W / DPI, H / DPI), dpi=DPI, facecolor='white')

# soft grey shadow along the left and top edges of the screenshot
for i in range(8):
    g = 0.80 + 0.025 * i
    fig.patches.append(Rectangle((i / W, 0), 1 / W, 1 - i / H, transform=fig.transFigure,
                                 color=(g, g, g), zorder=-10))
for i in range(10):
    g = 0.80 + 0.02 * i
    fig.patches.append(Rectangle((i / W, 1 - (i + 1) / H), 1 - i / W, 1 / H,
                                 transform=fig.transFigure, color=(g, g, g), zorder=-10))

ax = fig.add_axes([170 / W, 1 - 1334 / H, 1574 / W, 1217 / H])
ax2 = ax.twinx()

red_y = red_vals + [red_vals[-1]]
l1, = ax.step(red_edges, red_y, where='post', color='#ff0000', lw=1.3)
l2, = ax.plot(prism_wl, prism_flux, color='#0000ff', lw=1.3)
l3, = ax2.plot(snr_wl, snr, color='#008000', lw=1.3)

ax.set_xlim(0.5, 5.0)
ax.set_ylim(0, 30)
ax2.set_ylim(0, 60)
ax.set_xticks([0.5, 1.0, 1.5, 2.0, 2.5, 3.0, 3.5, 4.0, 4.5, 5.0])
ax.set_yticks([0, 5, 10, 15, 20, 25, 30])
ax2.set_yticks([0, 10, 20, 30, 40, 50, 60])

fs = 15.3
ax.grid(True, color='black', linestyle=(0, (8, 8)), linewidth=0.7)
ax.tick_params(axis='both', direction='in', length=6, width=0.8, labelsize=fs,
               top=True, right=False)
ax.tick_params(axis='x', pad=6)
ax.tick_params(axis='y', pad=5)
ax2.tick_params(axis='y', direction='in', length=6, width=0.8, labelsize=fs, pad=5)
for a in (ax, ax2):
    for s in a.spines.values():
        s.set_linewidth(1.2)

ax.set_title('Integrated galaxy spectrum: observed vs input at nominal resolution',
             fontsize=18.3, pad=10.5)
ax.set_xlabel('Wavelength / micron', fontsize=fs, labelpad=2)
ax.set_ylabel('Total spectral radiance (photons s-1 m-2 micron-1)', fontsize=fs, labelpad=4.5)
ax2.set_ylabel('Signal to noise ratio', fontsize=fs, labelpad=6)

leg = ax2.legend([l1, l2, l3],
                 ['Input spectrum rebinned', 'NIRSpec PRISM', 'Signal to noise ratio'],
                 loc='upper right', fontsize=18.3, fancybox=False, framealpha=1,
                 edgecolor='black', borderaxespad=0.47, handlelength=1.87,
                 handletextpad=1.06, labelspacing=0.5, borderpad=0.3,
                 handler_map={l1: LeftGapLine(), l2: LeftGapLine(), l3: LeftGapLine()})
leg.get_frame().set_linewidth(1.2)

fig.savefig('out.png', dpi=DPI)
